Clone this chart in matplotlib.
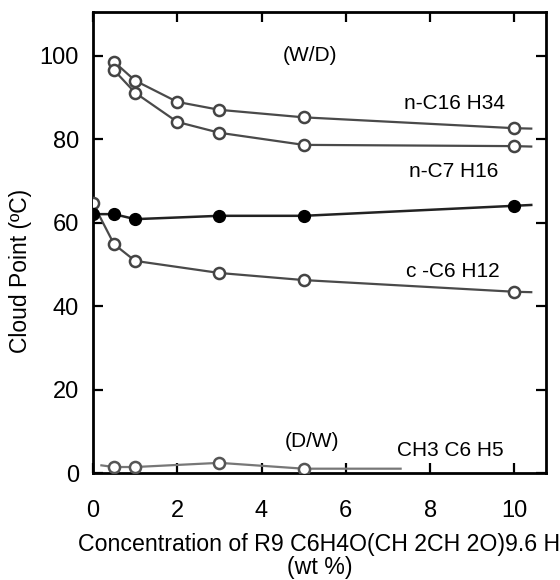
import matplotlib
matplotlib.use("Agg")
import matplotlib.pyplot as plt
import numpy as np

plt.rcParams['font.family'] = ['Liberation Sans', 'DejaVu Sans']

# values
conc = [0.5, 1, 2, 3, 5, 10]
c16h34 = [98.6, 94.1, 89.0, 87.1, 85.3, 82.7]
lower_open = [96.6, 91.2, 84.2, 81.6, 78.7, 78.4]

conc_c7 = [0, 0.5, 1, 3, 5, 10]
c7h16 = [62.1, 62.1, 60.9, 61.7, 61.7, 64.1]

conc_c6 = [0, 0.5, 1, 3, 5, 10]
c6h12 = [64.7, 54.9, 50.9, 48.0, 46.3, 43.5]

conc_tol = [0.5, 1, 3, 5]
toluene = [1.5, 1.5, 2.5, 1.1]
tol_line_x = [0.2, 0.5, 1, 3, 5, 7.3]
tol_line_y = [1.9, 1.5, 1.5, 2.5, 1.1, 1.1]

line_end = 10.4

fig = plt.figure(figsize=(5.6, 5.8), dpi=100)
ax = fig.add_axes([0.166, 0.184, 0.809, 0.795])

lc = '#4a4a4a'

def open_series(x, y):
    ax.plot(list(x) + [line_end], list(y) + [y[-1] - 0.1], color=lc, lw=1.6, zorder=2)
    ax.plot(x, y, 'o', ms=8, mfc='white', mec='#444444', mew=1.8, zorder=3)

open_series(conc, c16h34)
open_series(conc, lower_open)
open_series(conc_c6, c6h12)

ax.plot(list(conc_c7) + [line_end], list(c7h16) + [c7h16[-1] + 0.2], color='#222222', lw=1.8, zorder=2)
ax.plot(conc_c7, c7h16, 'o', ms=8.5, color='black', zorder=3)

ax.plot(tol_line_x, tol_line_y, color='#777777', lw=1.6, zorder=2)
ax.plot(conc_tol, toluene, 'o', ms=8, mfc='white', mec='#555555', mew=1.8, zorder=3)

fs = 15
ax.text(5.15, 100.2, '(W/D)', fontsize=fs, ha='center', va='center')
ax.text(8.57, 88.7, 'n-C16 H34', fontsize=fs, ha='center', va='center')
ax.text(8.57, 72.4, 'n-C7 H16', fontsize=fs, ha='center', va='center')
ax.text(8.54, 48.4, 'c -C6 H12', fontsize=fs, ha='center', va='center')
ax.text(5.2, 7.7, '(D/W)', fontsize=fs, ha='center', va='center')
ax.text(8.47, 5.5, 'CH3 C6 H5', fontsize=fs, ha='center', va='center')

ax.set_xlim(0, 10.75)
ax.set_ylim(0, 110.5)
ax.set_xticks([0, 2, 4, 6, 8, 10])
ax.set_yticks([0, 20, 40, 60, 80, 100])
ax.tick_params(direction='in', length=7, width=1.6, top=True, right=True,
               labelsize=17)
ax.tick_params(axis='x', pad=19)
ax.tick_params(axis='y', pad=10)
for s in ax.spines.values():
    s.set_linewidth(2)

ax.set_xlabel('Concentration of R9 C6H4O(CH 2CH 2O)9.6 H\n(wt %)', fontsize=16.7,
              labelpad=8, linespacing=1.0)
ax.set_ylabel('Cloud Point (ºC)', fontsize=16.5, labelpad=10)
ax.yaxis.set_label_coords(-0.135, 0.438)

fig.savefig('out.png', dpi=100)
